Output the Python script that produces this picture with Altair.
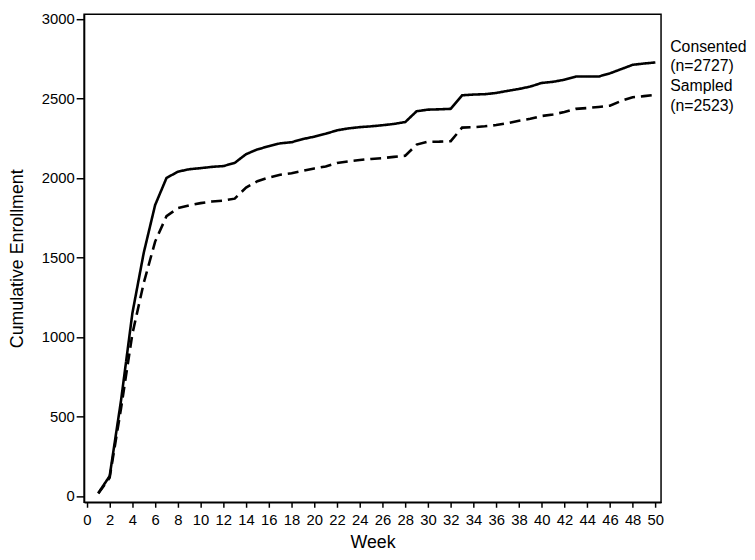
import altair as alt
import pandas as pd

weeks = list(range(1, 51))
consented = [18, 125, 600, 1150, 1530, 1830, 2000, 2040, 2055, 2062,
             2070, 2075, 2095, 2150, 2180, 2200, 2218, 2225, 2245, 2260,
             2278, 2300, 2312, 2320, 2325, 2332, 2340, 2352, 2420, 2430,
             2432, 2435, 2520, 2525, 2527, 2535, 2548, 2560, 2575, 2598,
             2605, 2618, 2638, 2638, 2638, 2658, 2685, 2712, 2720, 2727]
sampled = [15, 115, 550, 1020, 1340, 1600, 1760, 1810, 1828, 1842,
           1852, 1858, 1870, 1940, 1980, 2003, 2020, 2030, 2045, 2060,
           2073, 2095, 2105, 2113, 2120, 2125, 2133, 2140, 2210, 2228,
           2229, 2232, 2317, 2320, 2325, 2333, 2345, 2360, 2372, 2390,
           2400, 2415, 2435, 2440, 2447, 2455, 2485, 2508, 2515, 2523]
series_names = ["Consented", "Sampled"]
label_texts = ["Consented\n(n=2727)", "Sampled\n(n=2523)"]
label_dy = [-16, -9]
x_ticks = list(range(0, 51, 2))
y_ticks = [0, 500, 1000, 1500, 2000, 2500, 3000]

rows = []
for w, c in zip(weeks, consented):
    rows.append({"week": w, "value": c, "series": "Consented"})
for w, s in zip(weeks, sampled):
    rows.append({"week": w, "value": s, "series": "Sampled"})
df = pd.DataFrame(rows)

FONT = "Liberation Sans"
NARROW = "Liberation Sans Narrow, Arial Narrow, Liberation Sans"

x = alt.X("week:Q", scale=alt.Scale(domain=[-0.25, 50.5], nice=False, zero=False),
          axis=alt.Axis(values=x_ticks, title="Week", labelAngle=0, labelOverlap=False,
                        labelFont=NARROW, labelFontSize=15, tickSize=5, labelPadding=5,
                        titleFontSize=18, titlePadding=7, labelFlush=False, format="d"))
y = alt.Y("value:Q", scale=alt.Scale(domain=[-40, 3030], nice=False, zero=False),
          axis=alt.Axis(values=y_ticks, title="Cumulative Enrollment", labelFontSize=15,
                        tickSize=8, labelPadding=2, titleFontSize=18, titlePadding=15,
                        labelFlush=False, format="d"))

lines = alt.Chart(df).mark_line(color="black", strokeWidth=2.6).encode(
    x=x, y=y,
    strokeDash=alt.StrokeDash("series:N",
                              scale=alt.Scale(domain=series_names, range=[[1, 0], [11, 6]]),
                              legend=None),
    detail="series:N",
)

lab_df = pd.DataFrame({
    "week": [weeks[-1], weeks[-1]],
    "value": [consented[-1], sampled[-1]],
    "label": label_texts,
    "series": series_names,
})

lab1 = alt.Chart(lab_df[lab_df.series == "Consented"]).mark_text(
    align="left", baseline="middle", dx=15, dy=label_dy[0], fontSize=16, lineHeight=20,
    lineBreak="\n", font=FONT, color="black"
).encode(x=x, y=y, text="label:N")
lab2 = alt.Chart(lab_df[lab_df.series == "Sampled"]).mark_text(
    align="left", baseline="middle", dx=15, dy=label_dy[1], fontSize=16, lineHeight=20,
    lineBreak="\n", font=FONT, color="black"
).encode(x=x, y=y, text="label:N")

chart = alt.layer(lines, lab1, lab2).properties(
    width=584, height=494, padding={"left": 0, "top": 0, "right": 0, "bottom": 0}
).configure(font=FONT).configure_view(
    stroke="black", strokeWidth=1.5
).configure_axis(
    grid=False, domainColor="black", tickColor="black", labelColor="black",
    titleColor="black", titleFontWeight="normal", labelFont=FONT, titleFont=FONT,
    domainWidth=1.5, tickWidth=1.5
)

chart.save("out.html", embed_options={"renderer": "svg", "actions": False})
